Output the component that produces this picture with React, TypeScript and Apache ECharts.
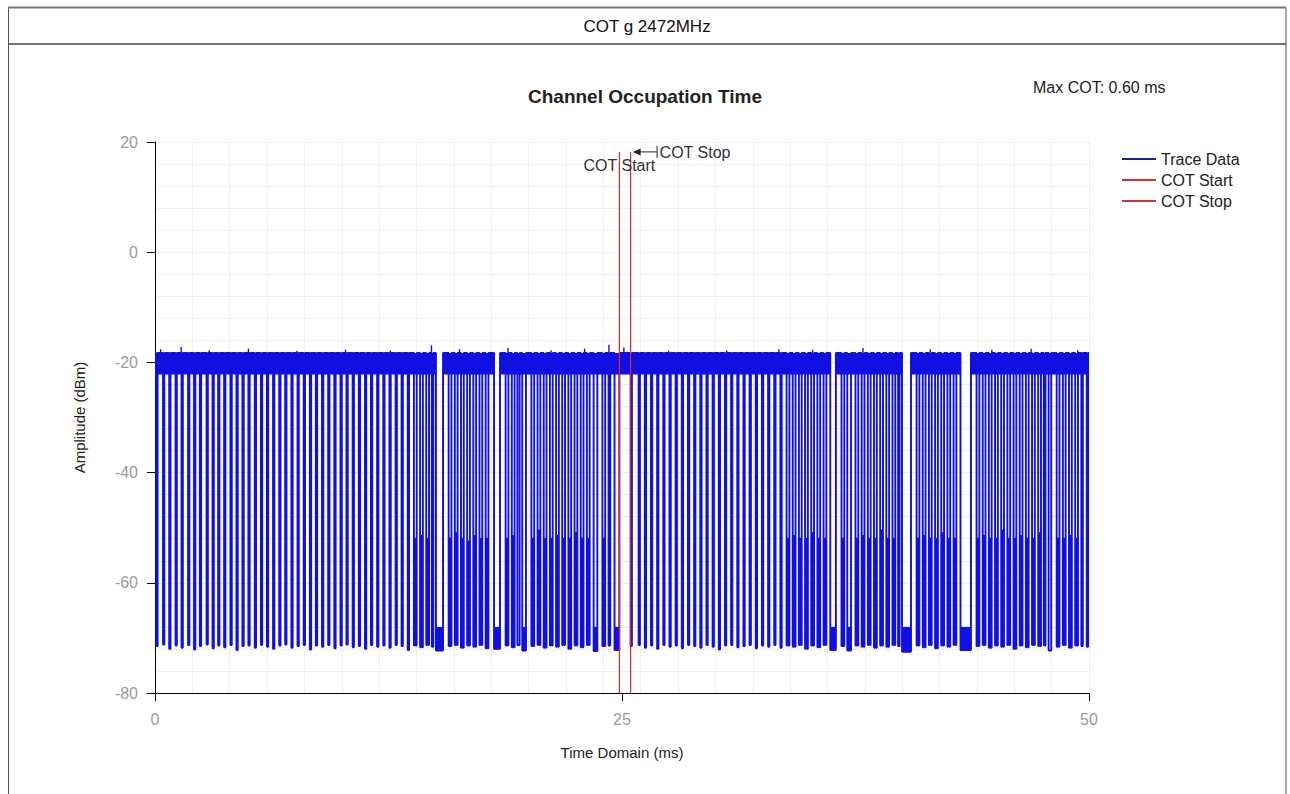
import { useEffect, useRef } from 'react';
import * as echarts from 'echarts';

const PAGE_TITLE = 'COT g 2472MHz';
const CHART_TITLE = 'Channel Occupation Time';
const MAX_COT_TEXT = 'Max COT: 0.60 ms';
const X_NAME = 'Time Domain (ms)';
const Y_NAME = 'Amplitude (dBm)';
const LEGEND_NAMES = ['Trace Data', 'COT Start', 'COT Stop'];

const X_MIN = 0;
const X_MAX = 50;
const X_INTERVAL = 25;
const Y_MIN = -80;
const Y_MAX = 20;
const Y_INTERVAL = 20;
const X_GRID_STEP = 2;
const Y_GRID_STEP = 4;

// trace levels (dBm)
const ON_TOP = -18.3;
const ON_BOTTOM = -22.2;
const OFF_NOISE_TOP = -68;

// COT markers (ms) and marker top (dBm)
const COT_START = 24.86;
const COT_STOP = 25.46;
const COT_TOP = 18.2;

// continuous "on" band segments [start, end] (ms)
const BAND_SEGMENTS: number[][] = [
  [0, 15.04], [15.42, 18.15], [18.47, 36.15], [36.45, 39.99], [40.47, 43.12], [43.68, 50],
];

// noise peaks on top of the "on" band: [time ms, peak dBm]
const BAND_PEAKS: number[][] = [
  [0.3, -17.6], [1.4, -17.2], [2.9, -17.8], [5.0, -17.5], [7.6, -17.9], [10.2, -17.7], [12.6, -17.8],
  [14.8, -16.9], [16.3, -17.6], [18.9, -17.4], [21.2, -17.8], [23.0, -17.5], [24.3, -16.8],
  [25.1, -17.3], [27.5, -17.9], [30.6, -17.8], [33.4, -17.6], [35.2, -17.7], [37.9, -17.4],
  [41.5, -17.6], [44.8, -17.7], [46.9, -17.5], [49.4, -17.8],
];

// off periods: [start ms, end ms, floor dBm, ack level dBm (0 = none)]
const GAPS: number[][] = [
  [0.07, 0.14, -71.5, 0], [0.43, 0.50, -71.2, 0], [0.76, 0.83, -72.0, 0], [1.10, 1.17, -71.4, 0],
  [1.42, 1.49, -71.8, 0], [1.77, 1.84, -71.3, 0], [2.09, 2.16, -72.1, 0], [2.40, 2.47, -71.5, 0],
  [2.76, 2.83, -71.2, 0], [3.08, 3.15, -71.9, 0], [3.38, 3.45, -71.4, 0], [3.70, 3.77, -71.7, 0],
  [4.04, 4.11, -71.3, 0], [4.36, 4.43, -72.2, 0], [4.68, 4.75, -71.5, 0], [5.00, 5.07, -71.4, 0],
  [5.34, 5.41, -71.8, 0], [5.67, 5.74, -71.3, 0], [5.99, 6.06, -71.6, 0], [6.32, 6.39, -72.0, 0],
  [6.65, 6.72, -71.4, 0], [6.97, 7.04, -71.2, 0], [7.30, 7.37, -71.8, 0], [7.63, 7.70, -71.5, 0],
  [7.96, 8.03, -71.3, 0], [8.29, 8.36, -72.1, 0], [8.61, 8.68, -71.4, 0], [8.94, 9.01, -71.6, 0],
  [9.27, 9.34, -71.3, 0], [9.60, 9.67, -71.9, 0], [9.93, 10.00, -71.4, 0], [10.25, 10.32, -71.2, 0],
  [10.58, 10.65, -71.7, 0], [10.91, 10.98, -71.5, 0], [11.24, 11.31, -72.0, 0], [11.56, 11.63, -71.3, 0],
  [11.89, 11.96, -71.6, 0], [12.22, 12.29, -71.4, 0], [12.55, 12.62, -71.8, 0], [12.88, 12.95, -71.3, 0],
  [13.20, 13.27, -71.5, 0], [13.53, 13.60, -72.2, 0],
  [13.86, 14.01, -71.4, -52], [14.19, 14.34, -71.7, -51.5], [14.52, 14.67, -71.3, -52], [14.82, 14.90, -71.6, 0],
  [15.04, 15.42, -72.3, 0],
  [15.72, 15.87, -71.5, -52], [16.05, 16.20, -71.3, -51], [16.38, 16.53, -71.8, -52], [16.71, 16.86, -71.4, -52.5],
  [17.04, 17.19, -71.6, -51.5], [17.37, 17.52, -71.3, -52], [17.70, 17.85, -71.9, -52],
  [18.15, 18.47, -72.0, 0],
  [18.77, 18.92, -71.4, -52], [19.10, 19.25, -71.7, -51.5], [19.40, 19.52, -71.3, 0], [19.66, 19.86, -72.3, 0],
  [20.15, 20.30, -71.5, -52], [20.48, 20.63, -71.3, -50.5], [20.81, 20.96, -71.8, -52], [21.14, 21.29, -71.4, -52],
  [21.47, 21.62, -71.6, -51.5], [21.80, 21.95, -71.3, -52], [22.13, 22.28, -72.0, -52], [22.46, 22.61, -71.4, -51],
  [22.79, 22.94, -71.7, -52], [23.12, 23.27, -71.3, -52], [23.48, 23.68, -72.4, 0], [23.95, 24.10, -71.5, -52],
  [24.28, 24.37, -71.4, 0], [24.60, 24.86, -72.2, 0],
  [25.46, 25.53, -71.5, 0], [25.89, 25.96, -71.3, 0], [26.22, 26.29, -71.8, 0], [26.55, 26.62, -71.4, 0],
  [26.88, 26.95, -72.0, 0], [27.21, 27.28, -71.3, 0], [27.54, 27.61, -71.6, 0], [27.87, 27.94, -71.4, 0],
  [28.20, 28.27, -71.9, 0], [28.53, 28.60, -71.3, 0], [28.86, 28.93, -71.5, 0], [29.19, 29.26, -71.8, 0],
  [29.52, 29.59, -71.3, 0], [29.85, 29.92, -71.6, 0], [30.18, 30.25, -72.1, 0], [30.51, 30.58, -71.4, 0],
  [30.84, 30.91, -71.3, 0], [31.17, 31.24, -71.7, 0], [31.50, 31.57, -71.5, 0], [31.83, 31.90, -71.3, 0],
  [32.16, 32.23, -71.9, 0], [32.49, 32.56, -71.4, 0], [32.82, 32.89, -71.6, 0], [33.15, 33.22, -71.3, 0],
  [33.48, 33.55, -71.8, 0],
  [33.81, 33.96, -71.4, -52], [34.14, 34.29, -71.6, -51.5], [34.47, 34.62, -71.3, -52], [34.80, 34.95, -72.0, -52],
  [35.13, 35.28, -71.4, -51], [35.46, 35.61, -71.7, -52], [35.79, 35.94, -71.3, -52],
  [36.15, 36.45, -72.2, 0],
  [36.75, 36.90, -71.5, -52], [37.06, 37.26, -72.3, 0], [37.50, 37.65, -71.4, -52], [37.83, 37.98, -71.6, -51.5],
  [38.16, 38.31, -71.3, -52], [38.49, 38.64, -71.8, -52], [38.82, 38.97, -71.4, -50.5], [39.15, 39.30, -71.6, -52],
  [39.48, 39.63, -71.3, -52], [39.78, 39.86, -71.5, 0],
  [39.99, 40.47, -72.5, 0],
  [40.77, 40.92, -71.4, -52], [41.10, 41.25, -71.7, -51.5], [41.43, 41.58, -71.3, -52], [41.76, 41.91, -71.9, -52],
  [42.09, 42.24, -71.4, -51], [42.42, 42.57, -71.6, -52], [42.75, 42.90, -71.3, -52],
  [43.12, 43.68, -72.2, 0],
  [43.98, 44.13, -71.5, -52], [44.31, 44.46, -71.3, -51.5], [44.64, 44.79, -71.8, -52], [44.97, 45.12, -71.4, -52],
  [45.30, 45.45, -71.6, -50.5], [45.63, 45.78, -71.3, -52], [45.96, 46.11, -72.0, -52], [46.29, 46.44, -71.4, -51.5],
  [46.62, 46.77, -71.7, -52], [46.95, 47.10, -71.3, -52], [47.28, 47.43, -71.5, -51], [47.58, 47.67, -71.4, 0],
  [47.84, 47.98, -72.3, 0], [48.27, 48.42, -71.6, -52], [48.60, 48.75, -71.3, -52], [48.93, 49.08, -71.8, -51.5],
  [49.26, 49.41, -71.4, -52], [49.59, 49.67, -71.5, 0], [49.88, 49.95, -71.6, 0],
];

const TRACE_COLOR = '#1010e2';
const RED = '#e02828';
const FONT = "'Liberation Sans', Arial, sans-serif";

function buildTrace(): number[][] {
  const pts: number[][] = [[X_MIN, ON_TOP]];
  for (const g of GAPS) {
    const [a, b, low, ack] = g;
    pts.push([a, ON_TOP], [a, low]);
    if (ack) {
      const w = b - a;
      pts.push([a + w * 0.3, low], [a + w * 0.3, ack], [b - w * 0.3, ack], [b - w * 0.3, low]);
    }
    pts.push([b, low], [b, ON_TOP]);
  }
  pts.push([X_MAX, ON_TOP]);
  return pts;
}

const rectRender = (_p: any, api: any) => {
  const p0 = api.coord([api.value(0), api.value(2)]);
  const p1 = api.coord([api.value(1), api.value(3)]);
  return {
    type: 'rect',
    shape: { x: p0[0], y: p0[1], width: p1[0] - p0[0], height: p1[1] - p0[1] },
    style: { fill: TRACE_COLOR },
  };
};

const peakRender = (_p: any, api: any) => {
  const p0 = api.coord([api.value(0), api.value(1)]);
  const p1 = api.coord([api.value(0), ON_TOP]);
  return {
    type: 'line',
    shape: { x1: p0[0], y1: p0[1], x2: p1[0], y2: p1[1] },
    style: { stroke: TRACE_COLOR, lineWidth: 1.4 },
  };
};

export default function App() {
  const ref = useRef<HTMLDivElement>(null);
  useEffect(() => {
    if (!ref.current) return;
    const chart = echarts.init(ref.current, undefined, { renderer: 'svg' });
    const bandData = BAND_SEGMENTS.map(([a, b]) => [a, b, ON_TOP, ON_BOTTOM]);
    const blobData = GAPS.filter((g) => g[1] - g[0] > 0.18).map((g) => [g[0], g[1], OFF_NOISE_TOP, g[2]]);
    const option: any = {
      animation: false,
      textStyle: { fontFamily: FONT },
      title: {
        text: CHART_TITLE,
        left: 'center',
        top: 82,
        textStyle: { fontSize: 19, fontWeight: 'bold', color: '#222', fontFamily: FONT },
      },
      legend: {
        orient: 'vertical',
        left: 1117,
        top: 144,
        icon: 'rect',
        itemWidth: 34,
        itemHeight: 2,
        itemGap: 1,
        textStyle: { fontSize: 16, color: '#222', lineHeight: 20, fontFamily: FONT },
        data: [
          { name: LEGEND_NAMES[0], itemStyle: { color: '#1f1f9c' } },
          { name: LEGEND_NAMES[1], itemStyle: { color: '#d23232' } },
          { name: LEGEND_NAMES[2], itemStyle: { color: '#d23232' } },
        ],
      },
      grid: { left: 155, top: 142, width: 934, height: 551 },
      xAxis: [
        {
          type: 'value',
          min: X_MIN,
          max: X_MAX,
          interval: X_INTERVAL,
          position: 'bottom',
          axisLine: { show: true, onZero: false, lineStyle: { color: '#000', width: 1 } },
          axisTick: { show: true, length: 8, lineStyle: { color: '#000' } },
          axisLabel: { color: '#9b9b9b', fontSize: 16, margin: 18, fontFamily: FONT },
          splitLine: { show: false },
          name: X_NAME,
          nameLocation: 'middle',
          nameGap: 52,
          nameTextStyle: { color: '#222', fontSize: 15, fontFamily: FONT },
        },
        {
          type: 'value',
          min: X_MIN,
          max: X_MAX,
          interval: X_GRID_STEP,
          position: 'top',
          axisLine: { show: false },
          axisTick: { show: false },
          axisLabel: { show: false },
          splitLine: { show: true, lineStyle: { color: '#eeeeee', width: 1 } },
        },
      ],
      yAxis: [
        {
          type: 'value',
          min: Y_MIN,
          max: Y_MAX,
          interval: Y_INTERVAL,
          position: 'left',
          axisLine: { show: true, onZero: false, lineStyle: { color: '#000', width: 1 } },
          axisTick: { show: true, length: 8, lineStyle: { color: '#000' } },
          axisLabel: { color: '#9b9b9b', fontSize: 16, margin: 17, fontFamily: FONT },
          splitLine: { show: false },
          name: Y_NAME,
          nameLocation: 'middle',
          nameGap: 68,
          nameRotate: 90,
          nameTextStyle: { color: '#222', fontSize: 15, fontFamily: FONT },
        },
        {
          type: 'value',
          min: Y_MIN,
          max: Y_MAX,
          interval: Y_GRID_STEP,
          position: 'right',
          axisLine: { show: false },
          axisTick: { show: false },
          axisLabel: { show: false },
          splitLine: { show: true, lineStyle: { color: '#eeeeee', width: 1 } },
        },
      ],
      series: [
        {
          name: 'band',
          type: 'custom',
          xAxisIndex: 0,
          yAxisIndex: 0,
          renderItem: rectRender,
          encode: { x: [0, 1], y: [2, 3] },
          data: bandData,
          clip: true,
          z: 2,
          silent: true,
        },
        {
          name: 'bandPeaks',
          type: 'custom',
          xAxisIndex: 0,
          yAxisIndex: 0,
          renderItem: peakRender,
          encode: { x: 0, y: 1 },
          data: BAND_PEAKS,
          clip: true,
          z: 2,
          silent: true,
        },
        {
          name: 'offNoise',
          type: 'custom',
          xAxisIndex: 0,
          yAxisIndex: 0,
          renderItem: rectRender,
          encode: { x: [0, 1], y: [2, 3] },
          data: blobData,
          clip: true,
          z: 2,
          silent: true,
        },
        {
          name: LEGEND_NAMES[0],
          type: 'line',
          xAxisIndex: 0,
          yAxisIndex: 0,
          data: buildTrace(),
          showSymbol: false,
          symbol: 'none',
          color: TRACE_COLOR,
          lineStyle: { color: TRACE_COLOR, width: 1.9 },
          clip: true,
          z: 3,
        },
        {
          name: LEGEND_NAMES[1],
          type: 'line',
          xAxisIndex: 0,
          yAxisIndex: 0,
          data: [[COT_START, COT_TOP], [COT_START, Y_MIN]],
          showSymbol: false,
          symbol: 'none',
          color: RED,
          lineStyle: { color: RED, width: 1.2 },
          z: 5,
        },
        {
          name: LEGEND_NAMES[2],
          type: 'line',
          xAxisIndex: 0,
          yAxisIndex: 0,
          data: [[COT_STOP, COT_TOP], [COT_STOP, Y_MIN]],
          showSymbol: false,
          symbol: 'none',
          color: RED,
          lineStyle: { color: RED, width: 1.2 },
          z: 5,
        },
      ],
    };
    chart.setOption(option);

    const ps = chart.convertToPixel({ xAxisIndex: 0, yAxisIndex: 0 }, [COT_START, COT_TOP]) as number[];
    const pe = chart.convertToPixel({ xAxisIndex: 0, yAxisIndex: 0 }, [COT_STOP, COT_TOP]) as number[];
    const ay = pe[1];
    const graphics: any[] = [
      { type: 'rect', silent: true, shape: { x: 8.5, y: 7.5, width: 1277.5, height: 820 }, style: { fill: 'none', stroke: '#555', lineWidth: 1 } },
      { type: 'line', silent: true, shape: { x1: 8, y1: 7.5, x2: 1286, y2: 7.5 }, style: { stroke: '#7a7a7a', lineWidth: 2 } },
      { type: 'line', silent: true, shape: { x1: 8, y1: 44, x2: 1286, y2: 44 }, style: { stroke: '#444', lineWidth: 1.5 } },
      { type: 'text', silent: true, x: 647, y: 26, style: { text: PAGE_TITLE, fontSize: 17, fontFamily: FONT, fill: '#111', align: 'center', verticalAlign: 'middle' } },
      { type: 'text', silent: true, x: 1033, y: 87, style: { text: MAX_COT_TEXT, fontSize: 16, fontFamily: FONT, fill: '#222', align: 'left', verticalAlign: 'middle' } },
      { type: 'text', silent: true, z: 10, x: ps[0], y: ay + 14, style: { text: 'COT Start', fontSize: 16, fontFamily: FONT, fill: '#333', align: 'center', verticalAlign: 'middle' } },
      { type: 'line', silent: true, z: 10, shape: { x1: pe[0] + 4, y1: ay, x2: pe[0] + 26, y2: ay }, style: { stroke: '#222', lineWidth: 1 } },
      { type: 'polygon', silent: true, z: 10, shape: { points: [[pe[0] + 2, ay], [pe[0] + 10, ay - 3.5], [pe[0] + 10, ay + 3.5]] }, style: { fill: '#222' } },
      { type: 'line', silent: true, z: 10, shape: { x1: pe[0] + 26.5, y1: ay - 6, x2: pe[0] + 26.5, y2: ay + 6 }, style: { stroke: '#222', lineWidth: 1 } },
      { type: 'text', silent: true, z: 10, x: pe[0] + 29, y: ay + 1, style: { text: 'COT Stop', fontSize: 16, fontFamily: FONT, fill: '#333', align: 'left', verticalAlign: 'middle' } },
    ];
    chart.setOption({ graphic: graphics });
    return () => chart.dispose();
  }, []);
  return <div ref={ref} style={{ position: 'fixed', left: 0, top: 0, width: 1290, height: 794, background: '#fff' }} />;
}
